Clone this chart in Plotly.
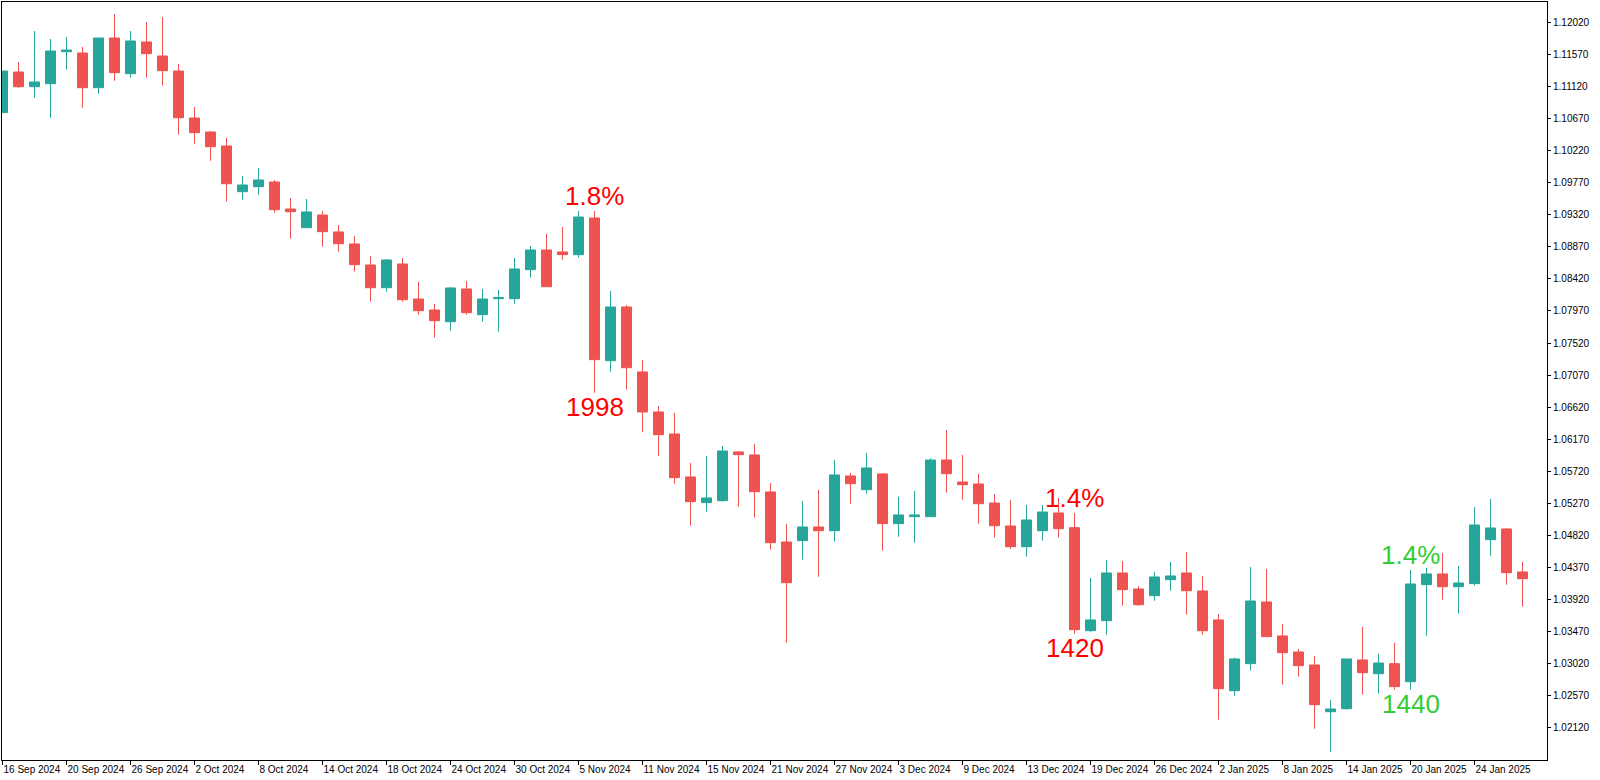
import plotly.graph_objects as go

# ---------------- data (EURUSD daily) ----------------
OPEN = [1.10756, 1.11327, 1.11121, 1.11163, 1.11613, 1.11594, 1.11107, 1.11805, 1.11304, 1.11749,
        1.11552, 1.11341, 1.10681, 1.10484, 1.10288, 1.09646, 1.09716, 1.09782, 1.09403, 1.09140,
        1.09318, 1.09080, 1.08911, 1.08616, 1.08297, 1.08630, 1.08138, 1.07984, 1.07819, 1.08279,
        1.07918, 1.08143, 1.08143, 1.08550, 1.08827, 1.08799, 1.08761, 1.09276, 1.07271, 1.08026,
        1.07113, 1.06551, 1.06242, 1.05638, 1.05277, 1.05305, 1.05989, 1.05947, 1.05427, 1.04724,
        1.04743, 1.04935, 1.04883, 1.05652, 1.05459, 1.05680, 1.04982, 1.05080, 1.05080, 1.05876,
        1.05567, 1.05539, 1.05272, 1.04949, 1.04658, 1.04883, 1.05132, 1.04925, 1.03478, 1.03619,
        1.04289, 1.04064, 1.03970, 1.04195, 1.04289, 1.04036, 1.03629, 1.02635, 1.03015, 1.03881,
        1.03404, 1.03179, 1.02996, 1.02340, 1.02382, 1.03067, 1.02874, 1.03015, 1.02762, 1.04125,
        1.04275, 1.04096, 1.04139, 1.04757, 1.04907, 1.04303]
HIGH = [1.11341, 1.11468, 1.11903, 1.11791, 1.11819, 1.11679, 1.11805, 1.12142, 1.11903, 1.12030,
        1.12100, 1.11440, 1.10836, 1.10499, 1.10400, 1.09866, 1.09979, 1.09810, 1.09557, 1.09543,
        1.09375, 1.09178, 1.09023, 1.08742, 1.08700, 1.08714, 1.08377, 1.08068, 1.08307, 1.08391,
        1.08279, 1.08265, 1.08714, 1.08883, 1.09051, 1.09150, 1.09375, 1.09375, 1.08251, 1.08054,
        1.07281, 1.06635, 1.06537, 1.05834, 1.05933, 1.06073, 1.06003, 1.06101, 1.05553, 1.04977,
        1.05300, 1.05455, 1.05876, 1.05694, 1.05975, 1.05694, 1.05361, 1.05441, 1.05900, 1.06298,
        1.05947, 1.05680, 1.05399, 1.05314, 1.05244, 1.05244, 1.05343, 1.05132, 1.04219, 1.04472,
        1.04457, 1.04106, 1.04303, 1.04443, 1.04584, 1.04247, 1.03713, 1.03099, 1.04373, 1.04345,
        1.03572, 1.03221, 1.03123, 1.02505, 1.03081, 1.03534, 1.03155, 1.03310, 1.04331, 1.04359,
        1.04570, 1.04387, 1.05216, 1.05329, 1.04921, 1.04443]
LOW = [1.10756, 1.11107, 1.10966, 1.10685, 1.11360, 1.10826, 1.11023, 1.11205, 1.11247, 1.11247,
       1.11135, 1.10447, 1.10320, 1.10081, 1.09505, 1.09533, 1.09604, 1.09351, 1.08985, 1.09140,
       1.08873, 1.08803, 1.08522, 1.08100, 1.08241, 1.08100, 1.07918, 1.07595, 1.07693, 1.07918,
       1.07819, 1.07679, 1.08072, 1.08438, 1.08311, 1.08690, 1.08719, 1.06822, 1.07117, 1.06864,
       1.06270, 1.05933, 1.05543, 1.04953, 1.05150, 1.05291, 1.05220, 1.05066, 1.04616, 1.03310,
       1.04476, 1.04237, 1.04729, 1.05262, 1.05403, 1.04602, 1.04799, 1.04715, 1.05080, 1.05417,
       1.05319, 1.04982, 1.04785, 1.04630, 1.04518, 1.04743, 1.04785, 1.03436, 1.03464, 1.03422,
       1.03829, 1.03829, 1.03900, 1.04040, 1.03703, 1.03422, 1.02228, 1.02565, 1.02916, 1.03394,
       1.02720, 1.02832, 1.02101, 1.01774, 1.02368, 1.02579, 1.02593, 1.02649, 1.02649, 1.03408,
       1.03914, 1.03717, 1.04110, 1.04532, 1.04125, 1.03815]
CLOSE = [1.11341, 1.11121, 1.11187, 1.11622, 1.11636, 1.11107, 1.11805, 1.11318, 1.11763, 1.11585,
         1.11346, 1.10685, 1.10475, 1.10278, 1.09758, 1.09740, 1.09810, 1.09393, 1.09365, 1.09361,
         1.09084, 1.08915, 1.08620, 1.08297, 1.08686, 1.08128, 1.07974, 1.07833, 1.08293, 1.07946,
         1.08138, 1.08157, 1.08560, 1.08827, 1.08311, 1.08761, 1.09290, 1.07286, 1.08026, 1.07173,
         1.06551, 1.06232, 1.05628, 1.05291, 1.05343, 1.06003, 1.05951, 1.05431, 1.04715, 1.04153,
         1.04935, 1.04883, 1.05666, 1.05543, 1.05764, 1.04982, 1.05104, 1.05104, 1.05876, 1.05684,
         1.05529, 1.05262, 1.04953, 1.04658, 1.05033, 1.05146, 1.04911, 1.03492, 1.03629, 1.04289,
         1.04054, 1.03843, 1.04233, 1.04247, 1.04040, 1.03478, 1.02663, 1.03081, 1.03895, 1.03394,
         1.03169, 1.02987, 1.02439, 1.02378, 1.03081, 1.02888, 1.03024, 1.02692, 1.04134, 1.04275,
         1.04096, 1.04148, 1.04963, 1.04921, 1.04293, 1.04209]

X_TICK_LABELS = ["16 Sep 2024", "20 Sep 2024", "26 Sep 2024", "2 Oct 2024", "8 Oct 2024",
                 "14 Oct 2024", "18 Oct 2024", "24 Oct 2024", "30 Oct 2024", "5 Nov 2024",
                 "11 Nov 2024", "15 Nov 2024", "21 Nov 2024", "27 Nov 2024", "3 Dec 2024",
                 "9 Dec 2024", "13 Dec 2024", "19 Dec 2024", "26 Dec 2024", "2 Jan 2025",
                 "8 Jan 2025", "14 Jan 2025", "20 Jan 2025", "24 Jan 2025"]
X_TICK_BARS = [0, 4, 8, 12, 16, 20, 24, 28, 32, 36, 40, 44, 48, 52, 56, 60, 64, 68, 72, 76,
               80, 84, 88, 92]

Y_TICKS = [1.02120, 1.02570, 1.03020, 1.03470, 1.03920, 1.04370, 1.04820, 1.05270, 1.05720,
           1.06170, 1.06620, 1.07070, 1.07520, 1.07970, 1.08420, 1.08870, 1.09320, 1.09770,
           1.10220, 1.10670, 1.11120, 1.11570, 1.12020]

# big-move markers: bar index, text above high, text below low, colour
MARK_BARS = [37, 67, 88]
MARK_TOP = ["1.8%", "1.4%", "1.4%"]
MARK_BOTTOM = ["1998", "1420", "1440"]
MARK_COLORS = ["#ff0000", "#ff0000", "#32cd32"]

TEAL = "#26a69a"
RED = "#ef5350"

x = list(range(len(OPEN)))

fig = go.Figure()
fig.add_trace(go.Candlestick(
    x=x, open=OPEN, high=HIGH, low=LOW, close=CLOSE,
    increasing=dict(fillcolor=TEAL, line=dict(color=TEAL, width=1)),
    decreasing=dict(fillcolor=RED, line=dict(color=RED, width=1)),
    whiskerwidth=0, showlegend=False, hoverinfo="skip",
))

annotations = []
for i, b in enumerate(MARK_BARS):
    annotations.append(dict(x=b, y=HIGH[b], xref="x", yref="y", text=MARK_TOP[i],
                            showarrow=False, xanchor="center", yanchor="bottom", yshift=-2,
                            font=dict(family="Liberation Sans, Arial, sans-serif", size=26,
                                      color=MARK_COLORS[i])))
    annotations.append(dict(x=b, y=LOW[b], xref="x", yref="y", text=MARK_BOTTOM[i],
                            showarrow=False, xanchor="center", yanchor="top", yshift=3,
                            font=dict(family="Liberation Sans, Arial, sans-serif", size=26,
                                      color=MARK_COLORS[i])))

tick_font = dict(family="Liberation Sans, Arial, sans-serif", size=10, color="black")

fig.update_layout(
    width=1600, height=780,
    margin=dict(l=2, r=53, t=2, b=20, pad=0),
    paper_bgcolor="white", plot_bgcolor="white",
    boxgap=0.375, boxgroupgap=0,
    showlegend=False,
    annotations=annotations,
    xaxis=dict(
        range=[-0.03125, 96.53],
        tickmode="array", tickvals=X_TICK_BARS, ticktext=X_TICK_LABELS,
        tickangle=0,
        ticks="outside", ticklen=4, tickwidth=1, tickcolor="black",
        ticklabelposition="outside right",
        tickfont=tick_font,
        showline=True, mirror=True, linecolor="black", linewidth=1,
        showgrid=False, zeroline=False,
        rangeslider=dict(visible=False),
        fixedrange=True,
    ),
    yaxis=dict(
        side="right",
        range=[1.016613, 1.123108],
        tickmode="array", tickvals=Y_TICKS, tickformat=".5f",
        ticks="outside", ticklen=3, tickwidth=1, tickcolor="black",
        tickfont=tick_font,
        showline=True, mirror=True, linecolor="black", linewidth=1,
        showgrid=False, zeroline=False,
        fixedrange=True,
    ),
)

fig.write_html("out.html")
